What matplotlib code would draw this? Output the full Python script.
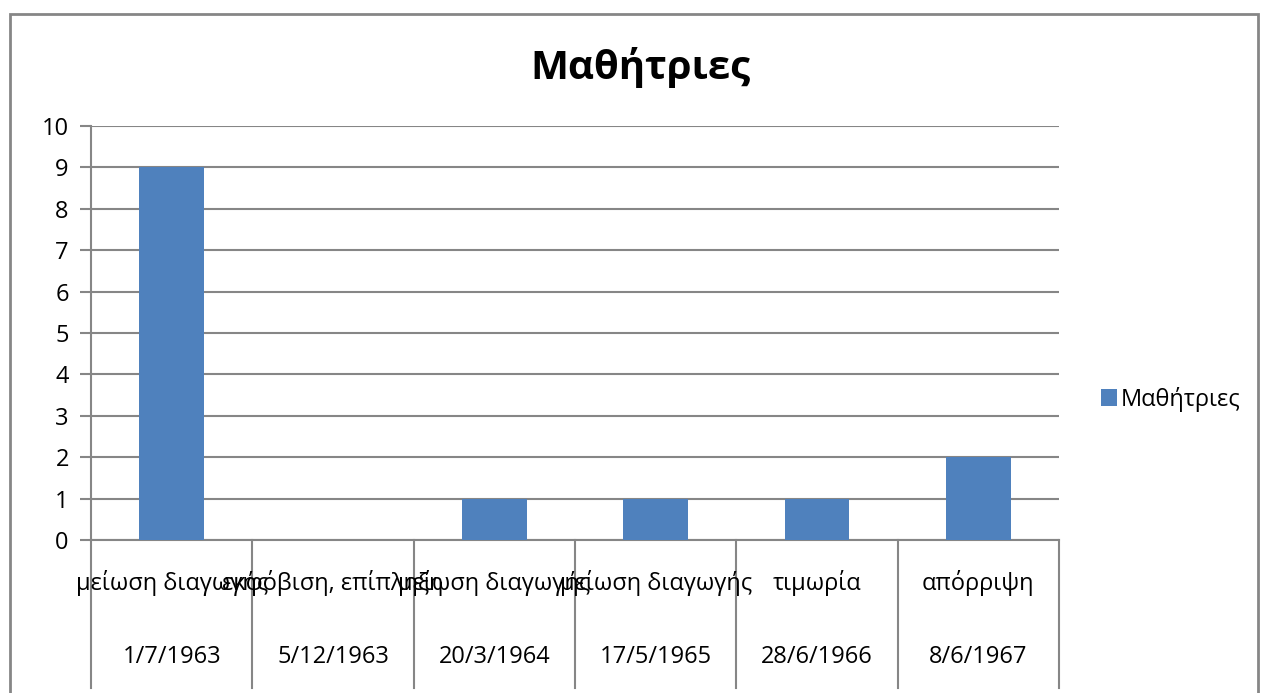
import matplotlib
matplotlib.use("Agg")
import matplotlib.pyplot as plt
import matplotlib.transforms as mtransforms
from matplotlib.patches import Rectangle

plt.rcParams['font.family'] = ['Open Sans', 'DejaVu Sans']

# data
kind = ["μείωση διαγωγής", "εκφόβιση, επίπληξη", "μείωση διαγωγής",
        "μείωση διαγωγής", "τιμωρία", "απόρριψη"]
dates = ["1/7/1963", "5/12/1963", "20/3/1964", "17/5/1965", "28/6/1966", "8/6/1967"]
girls = [9, 0, 1, 1, 1, 2]
series_name = "Μαθήτριες"

W, H = 1262, 693
fig = plt.figure(figsize=(W / 100, H / 100), dpi=100)
ax = fig.add_axes([91 / W, 1 - 540 / H, (1059 - 91) / W, (540 - 126) / H])

gray = "#868686"
blue = "#4F81BD"
fs = 17

x = list(range(len(girls)))
ax.bar(x, girls, width=0.4, color=blue, label=series_name, zorder=3)

ax.set_xlim(-0.5, len(girls) - 0.5)
ax.set_ylim(0, 10)
ax.set_yticks(range(0, 11))
ax.yaxis.grid(True, color=gray, linewidth=1.5, zorder=0)
ax.tick_params(axis='y', length=8, width=1.5, color=gray, labelsize=fs, pad=8)
ax.tick_params(axis='x', length=0, labelbottom=False)
for s in ["top", "right"]:
    ax.spines[s].set_visible(False)
for s in ["left", "bottom"]:
    ax.spines[s].set_color(gray)
    ax.spines[s].set_linewidth(1.5)

# two-level category axis (labels overlap as in the original)
trans = mtransforms.blended_transform_factory(ax.transData, ax.transAxes)
px = 1.0 / (540 - 126)
for i in range(len(girls) + 1):
    ax.plot([i - 0.5, i - 0.5], [0, -148 * px], transform=trans, color=gray,
            linewidth=1.5, clip_on=False)
for i, (k, d) in enumerate(zip(kind, dates)):
    ax.text(i, -43 * px, k, transform=trans, ha="center", va="center",
            fontsize=fs, clip_on=False)
    ax.text(i, -117 * px, d, transform=trans, ha="center", va="center",
            fontsize=fs, clip_on=False)

fig.text(640 / W, 1 - 68 / H, series_name, fontsize=29, fontweight="bold",
         ha="center", va="center")

ax.legend(loc="center left", bbox_to_anchor=(1.021, 0.34), frameon=False,
          fontsize=fs, handlelength=0.7, handleheight=0.7, handletextpad=0.15)

fig.add_artist(Rectangle((10 / W, -0.1), (1258 - 10) / W, 0.1 + 1 - 14 / H,
                         transform=fig.transFigure, fill=False,
                         edgecolor=gray, linewidth=2))

fig.savefig("out.png", dpi=100)
